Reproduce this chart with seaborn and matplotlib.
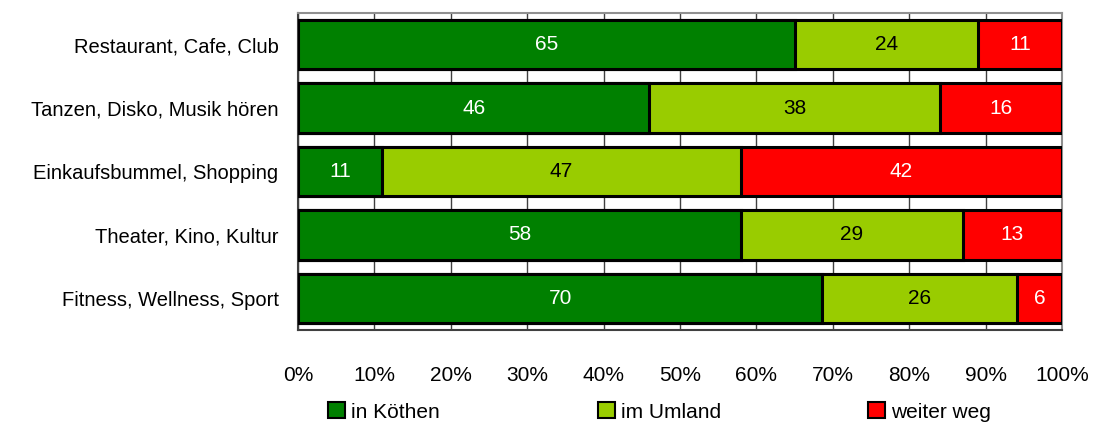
import matplotlib
matplotlib.use("Agg")
import matplotlib.pyplot as plt
from matplotlib.patches import Patch
import numpy as np
import pandas as pd
import seaborn as sns

# Survey answers: where leisure activities take place (counts per 100 answers)
categories = [
    "Restaurant, Cafe, Club",
    "Tanzen, Disko, Musik hören",
    "Einkaufsbummel, Shopping",
    "Theater, Kino, Kultur",
    "Fitness, Wellness, Sport",
]
in_koethen = [65, 46, 11, 58, 70]
im_umland = [24, 38, 47, 29, 26]
weiter_weg = [11, 16, 42, 13, 6]

series_names = ["in Köthen", "im Umland", "weiter weg"]
series_colors = ["#008000", "#99CC00", "#FF0000"]
text_colors = ["white", "black", "white"]
x_tick_labels = ["0%", "10%", "20%", "30%", "40%", "50%", "60%", "70%", "80%", "90%", "100%"]

sns.set_style("white")
plt.rcParams["font.family"] = ["Liberation Sans", "DejaVu Sans"]
plt.rcParams["text.color"] = "black"
plt.rcParams["xtick.color"] = "black"
plt.rcParams["ytick.color"] = "black"

FS = 14.5

df = pd.DataFrame({
    "category": categories,
    "in Köthen": in_koethen,
    "im Umland": im_umland,
    "weiter weg": weiter_weg,
})
totals = df[series_names].sum(axis=1)
shares = df[series_names].div(totals, axis=0) * 100
cum = shares.cumsum(axis=1)

W, H = 1099, 428
fig = plt.figure(figsize=(W / 100, H / 100), dpi=100)
ax = fig.add_axes([298 / W, 1 - 330 / H, (1062 - 298) / W, (330 - 13) / H])

# Stacked bars: draw cumulative totals from the outermost segment inwards
for name, color in reversed(list(zip(series_names, series_colors))):
    plot_df = pd.DataFrame({"category": df["category"], "value": cum[name]})
    sns.barplot(data=plot_df, x="value", y="category", orient="h", color=color,
                saturation=1, width=0.78, edgecolor="black", linewidth=2.2,
                ax=ax, zorder=3)

# Value labels centred in each segment
for i in range(len(categories)):
    left = 0.0
    for name, tc in zip(series_names, text_colors):
        w = shares.loc[i, name]
        ax.text(left + w / 2, i, str(df.loc[i, name]), ha="center", va="center",
                color=tc, fontsize=FS + 0.5, zorder=5)
        left += w

ax.set_xlim(0, 100)
ax.set_ylim(len(categories) - 0.5, -0.5)
ax.set_xticks(np.arange(0, 101, 10))
ax.set_xticklabels(x_tick_labels, fontsize=FS + 0.5)
ax.tick_params(axis="x", length=0, pad=26)
ax.tick_params(axis="y", which="major", length=0, labelsize=FS, pad=14)
ax.set_yticks(np.arange(-0.5, len(categories), 1.0), minor=True)
ax.tick_params(axis="y", which="minor", length=6, width=1, color="#404040", direction="out")
ax.set_xlabel("")
ax.set_ylabel("")

ax.grid(axis="x", color="#404040", linewidth=1, zorder=0)
ax.set_axisbelow(True)
for side in ["top", "right"]:
    ax.spines[side].set_color("#909090")
    ax.spines[side].set_linewidth(1.5)
for side in ["left", "bottom"]:
    ax.spines[side].set_color("#404040")
    ax.spines[side].set_linewidth(1.5)

# Legend entries in equally spaced slots below the axis
slot_left = [328, 598, 868]
for x0, name, color in zip(slot_left, series_names, series_colors):
    fig.legend([Patch(facecolor=color, edgecolor="black", linewidth=1.5)], [name],
               loc="center left", bbox_to_anchor=(x0 / W, 1 - 412 / H),
               frameon=False, fontsize=FS + 0.5, handlelength=0.8, handleheight=0.8,
               handletextpad=0.3, borderpad=0, borderaxespad=0)

fig.savefig("out.png", dpi=100)
